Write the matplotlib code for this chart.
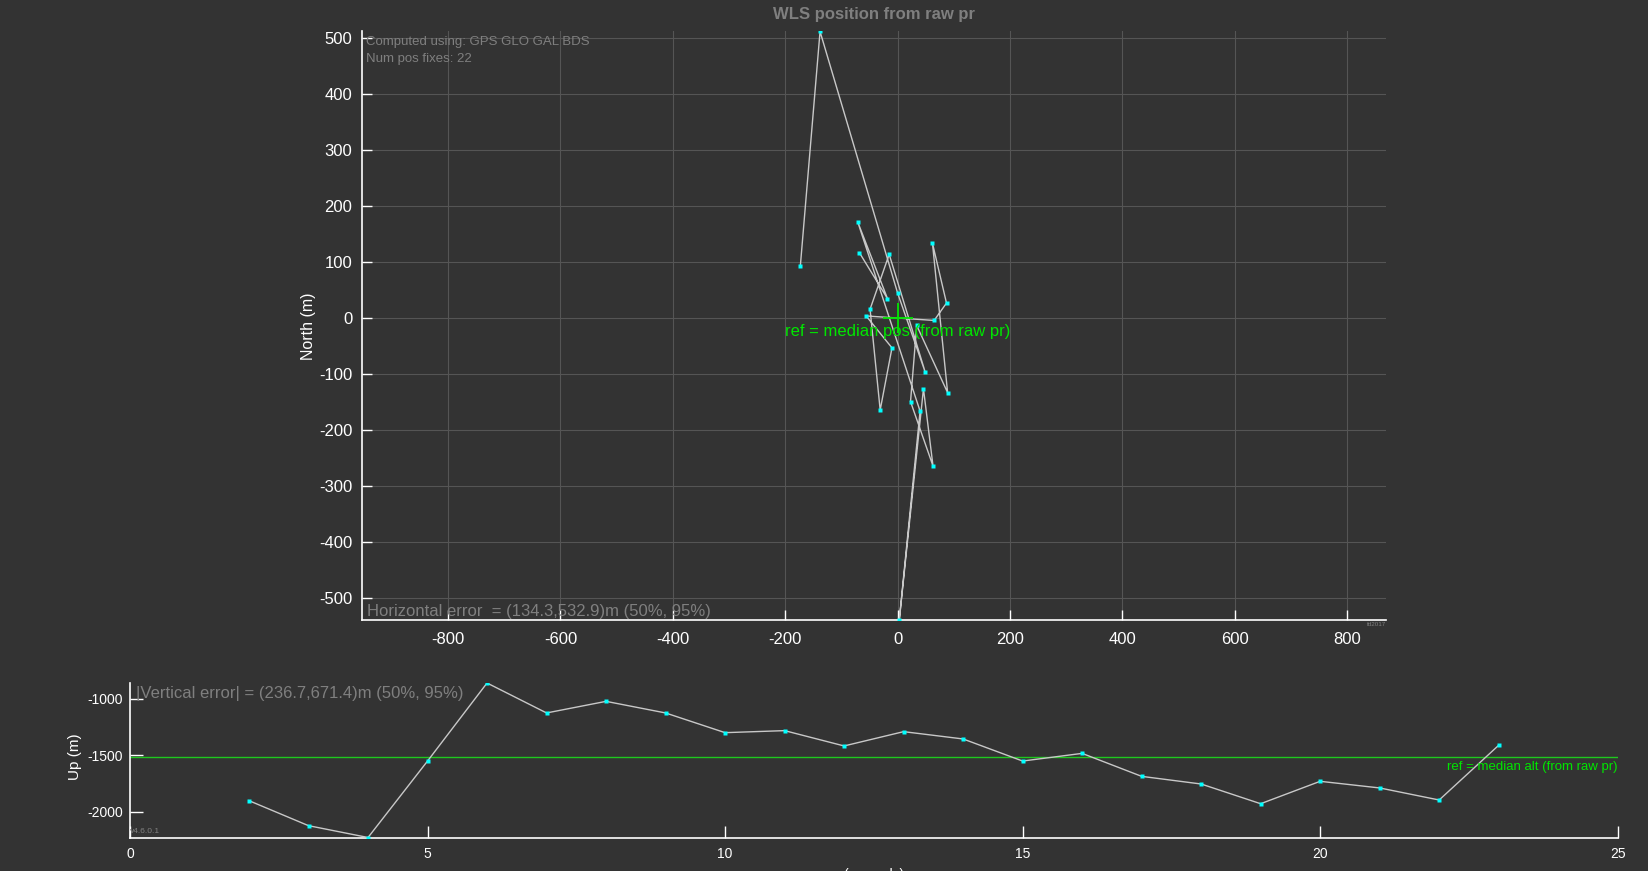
import numpy as np
import matplotlib
matplotlib.use("Agg")
import matplotlib.pyplot as plt

plt.rcParams['font.family'] = ['Liberation Sans', 'DejaVu Sans']
plt.rcParams['axes.unicode_minus'] = False

# WLS position fixes (east, north in m), in time order
east = [-173, -138, 0, 49, -15, -49, -31, -10, -56, 65, 87, 62, 89, 34, 23, 63, 46, 3, 40, -71, -18, -68]
north = [94, 512, 45, -96, 114, 16, -164, -53, 4, -4, 27, 134, -133, -13, -149, -264, -126, -539, -166, 172, 35, 117]

# altitude per epoch
t_sec = list(range(2, 24))
up = [-1903, -2125, -2230, -1551, -858, -1124, -1021, -1124, -1299, -1281, -1417,
      -1290, -1355, -1551, -1483, -1687, -1755, -1930, -1731, -1790, -1897, -1411]

xticks_en = [-800, -600, -400, -200, 0, 200, 400, 600, 800]
yticks_en = [-500, -400, -300, -200, -100, 0, 100, 200, 300, 400, 500]
xticks_up = [0, 5, 10, 15, 20, 25]
yticks_up = [-2000, -1500, -1000]

bg = '#333333'
txt_gray = '#7f7f7f'
line_gray = '#c8c8c8'
cyan = '#00ffff'
green = '#00e600'

fig = plt.figure(figsize=(16.48, 8.71), dpi=100, facecolor=bg)

# ---- top: horizontal position ----
ax = fig.add_axes([362 / 1648, 1 - 620 / 871, 1024 / 1648, 588.5 / 871])
ax.set_facecolor(bg)
ax.plot(east, north, '-', color=line_gray, lw=1.0, zorder=3)
ax.plot(east, north, 's', color=cyan, ms=3.5, mec='none', zorder=4)
ax.plot(0, 0, '+', color=green, ms=22, mew=1.3, zorder=5)
ax.text(0, 0, 'ref = median pos (from raw pr)', color=green, fontsize=12,
        ha='center', va='center', zorder=6,
        transform=ax.transData + matplotlib.transforms.ScaledTranslation(0, -13 / 100, fig.dpi_scale_trans))
ax.set_xlim(-953, 869)
ax.set_ylim(min(north), max(north))
ax.set_xticks(xticks_en)
ax.set_yticks(yticks_en)
ax.grid(True, color='#555555', lw=0.8)
ax.set_axisbelow(True)
for s in ['top', 'right']:
    ax.spines[s].set_visible(False)
for s in ['left', 'bottom']:
    ax.spines[s].set_color('white')
    ax.spines[s].set_linewidth(1.2)
ax.tick_params(direction='in', length=7, width=1, colors='white', labelsize=12, pad=7)
ax.tick_params(axis='x', pad=8.5)
ax.set_ylabel('North (m)', color='white', fontsize=11.5)
ax.yaxis.set_label_coords(-0.0454, 0.5)
ax.text(0.004, 0.983, 'Computed using: GPS GLO GAL BDS', color=txt_gray, fontsize=9.5,
        ha='left', va='center', transform=ax.transAxes)
ax.text(0.004, 0.953, 'Num pos fixes: 22', color=txt_gray, fontsize=9.5,
        ha='left', va='center', transform=ax.transAxes)
ax.text(0.005, 0.015, 'Horizontal error  = (134.3,532.9)m (50%, 95%)', color=txt_gray,
        fontsize=12, ha='left', va='center', transform=ax.transAxes)
ax.text(1.0, -0.007, 'fd2017', color=txt_gray, fontsize=4.5, ha='right', va='center',
        transform=ax.transAxes)
fig.text(874 / 1648, 1 - 14 / 871, 'WLS position from raw pr', color=txt_gray,
         fontsize=12, fontweight='bold', ha='center', va='center')

# ---- bottom: altitude ----
ax2 = fig.add_axes([130 / 1648, 1 - 837.5 / 871, 1487.7 / 1648, 154.5 / 871])
ax2.set_facecolor(bg)
med_up = np.median(up)
ax2.axhline(med_up, color='#1ec81e', lw=1.0, zorder=2)
ax2.plot(t_sec, up, '-', color=line_gray, lw=1.0, zorder=3)
ax2.plot(t_sec, up, 's', color=cyan, ms=3.5, mec='none', zorder=4)
ax2.text(25, med_up, 'ref = median alt (from raw pr)', color=green, fontsize=9.5,
         ha='right', va='center',
         transform=ax2.transData + matplotlib.transforms.ScaledTranslation(0, -10 / 100, fig.dpi_scale_trans))
ax2.set_xlim(0, 25)
ax2.set_ylim(min(up), max(up))
ax2.set_xticks(xticks_up)
ax2.set_yticks(yticks_up)
for s in ['top', 'right']:
    ax2.spines[s].set_visible(False)
for s in ['left', 'bottom']:
    ax2.spines[s].set_color('white')
    ax2.spines[s].set_linewidth(1.2)
ax2.tick_params(direction='in', length=9, width=1, colors='white', labelsize=10, pad=5)
ax2.tick_params(axis='x', pad=7)
ax2.set_ylabel('Up (m)', color='white', fontsize=11)
ax2.yaxis.set_label_coords(-0.032, 0.52)
ax2.set_xlabel('(seconds)', color='white', fontsize=10)
ax2.xaxis.set_label_coords(0.5, -0.197)
ax2.text(0.004, 0.93, '|Vertical error| = (236.7,671.4)m (50%, 95%)', color=txt_gray,
         fontsize=12, ha='left', va='center', transform=ax2.transAxes)
ax2.text(0.0, 0.036, 'v4.6.0.1', color=txt_gray, fontsize=6, ha='left', va='center',
         transform=ax2.transAxes)

plt.savefig('out.png', dpi=100, facecolor=bg)
